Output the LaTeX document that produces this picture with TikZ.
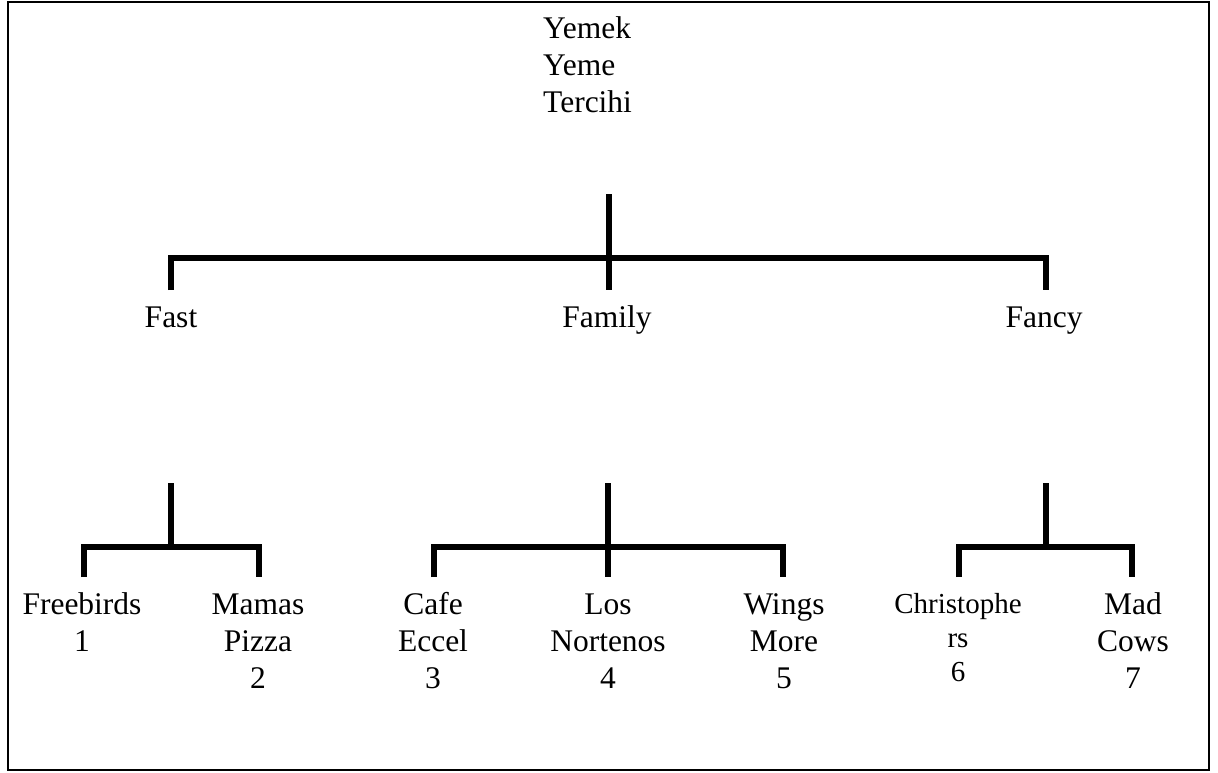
\documentclass[tikz,border=0pt]{standalone}
\usepackage{fontspec}
\setmainfont{Liberation Serif}
\begin{document}
\begin{tikzpicture}[x=1pt,y=-1pt,
  bar/.style={line width=6pt,line join=miter,black},
  frame/.style={line width=2pt,black},
  lbl/.style={inner sep=0pt,align=center,font=\fontsize{31.5}{37}\selectfont},
  lblsmall/.style={inner sep=0pt,align=center,font=\fontsize{29}{34}\selectfont},
]
\useasboundingbox (0,0) rectangle (1218,772);
\draw[frame] (8,1.5) rectangle (1209,770);

% root
\node[inner sep=0pt,align=left,anchor=north west,font=\fontsize{31.5}{37}\selectfont] (root) at (543,12.1) {\strut Yemek\\Yeme\\Tercihi};

% level 1
\node[lbl,anchor=base] (fast) at (171,327) {Fast};
\node[lbl,anchor=base] (family) at (607,327) {Family};
\node[lbl,anchor=base] (fancy) at (1044,327) {Fancy};

% level 2
\node[lbl,anchor=north] (l1) at (82,588.1) {\strut Freebirds\\1};
\node[lbl,anchor=north] (l2) at (258,588.1) {\strut Mamas\\Pizza\\2};
\node[lbl,anchor=north] (l3) at (433,588.1) {\strut Cafe\\Eccel\\3};
\node[lbl,anchor=north] (l4) at (608,588.1) {\strut Los\\Nortenos\\4};
\node[lbl,anchor=north] (l5) at (784,588.1) {\strut Wings\\More\\5};
\node[lblsmall,anchor=north] (l6) at (958,589.2) {\strut Christophe\\rs\\6};
\node[lbl,anchor=north] (l7) at (1133,588.1) {\strut Mad\\Cows\\7};

% top bracket
\coordinate (rt) at (609,194);
\coordinate (rb) at (609,290);
\coordinate (h1) at (0,258);
\coordinate (k1L) at (171,290);
\coordinate (k1R) at (1046,290);
\draw[bar] (rt) -- (rb);
\draw[bar] (k1L) -- (k1L |- h1) -- (k1R |- h1) -- (k1R);

% second level brackets
\coordinate (h2) at (0,547);
\coordinate (v2) at (0,483);
\coordinate (b2) at (0,577);
% Fast
\coordinate (fastv) at (171,0);
\coordinate (t1) at (84,577);
\coordinate (t2) at (259,577);
\draw[bar] (fastv |- v2) -- (fastv |- h2);
\draw[bar] (t1) -- (t1 |- h2) -- (t2 |- h2) -- (t2);
% Family
\coordinate (famv) at (608,0);
\coordinate (t3) at (434,577);
\coordinate (t5) at (783,577);
\draw[bar] (famv |- v2) -- (famv |- b2);
\draw[bar] (t3) -- (t3 |- h2) -- (t5 |- h2) -- (t5);
% Fancy
\coordinate (fanv) at (1046,0);
\coordinate (t6) at (959,577);
\coordinate (t7) at (1132,577);
\draw[bar] (fanv |- v2) -- (fanv |- h2);
\draw[bar] (t6) -- (t6 |- h2) -- (t7 |- h2) -- (t7);
\end{tikzpicture}
\end{document}
